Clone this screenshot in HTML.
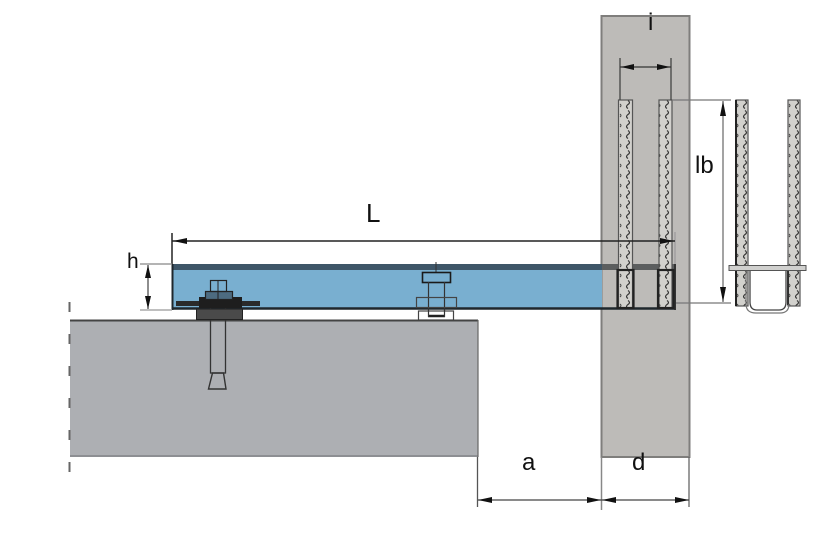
<!DOCTYPE html>
<html><head><meta charset="utf-8"><style>
html,body{margin:0;padding:0;background:#fff;}
svg{display:block;}
text{font-family:"Liberation Sans",sans-serif;fill:#111;}
</style></head><body>
<svg width="835" height="553" viewBox="0 0 835 553" xmlns="http://www.w3.org/2000/svg">
<defs>
<pattern id="rb" x="0" y="100" width="13" height="10" patternUnits="userSpaceOnUse">
<rect width="13" height="10" fill="#d2d1cd"/>
<path d="M4 0.5 q3 2 0 4 q-3 2 0 4" stroke="#333" stroke-width="1.2" fill="none"/>
<path d="M9 4 q2 1.5 0 3" stroke="#444" stroke-width="1" fill="none"/>
</pattern>
</defs>

<!-- slab -->
<rect x="70" y="320" width="408" height="137" fill="#adafb3"/>
<line x1="70" y1="320.5" x2="478" y2="320.5" stroke="#444" stroke-width="2"/>
<line x1="70" y1="456" x2="478" y2="456" stroke="#8d8f93" stroke-width="2"/>
<line x1="478" y1="320" x2="478" y2="457" stroke="#666" stroke-width="1.2"/>
<line x1="69.5" y1="302" x2="69.5" y2="472" stroke="#666" stroke-width="2" stroke-dasharray="10,22"/>

<!-- wall -->
<rect x="601.5" y="16" width="88" height="441" fill="#bdbbb8" stroke="#7f7e7c" stroke-width="2"/>

<!-- beam -->
<rect x="172" y="264" width="430" height="45" fill="#79afd0"/>
<rect x="172" y="264" width="430" height="6" fill="#3e5668"/>
<rect x="602" y="264" width="74" height="6" fill="#5c5e5f"/>
<line x1="172" y1="308.5" x2="676" y2="308.5" stroke="#1f272c" stroke-width="2.5"/>
<line x1="172.5" y1="264" x2="172.5" y2="310" stroke="#1f272c" stroke-width="2"/>
<line x1="675" y1="264" x2="675" y2="310" stroke="#333" stroke-width="2"/>

<!-- rebars in wall -->
<rect x="618.5" y="100" width="14" height="208" fill="url(#rb)" stroke="#555" stroke-width="1.2"/>
<rect x="659" y="100" width="13" height="208" fill="url(#rb)" stroke="#555" stroke-width="1.2"/>
<rect x="617.5" y="270" width="16" height="38" fill="none" stroke="#222" stroke-width="2.2"/>
<rect x="658" y="270" width="15.5" height="38" fill="none" stroke="#222" stroke-width="2.2"/>

<!-- left anchor bolt -->
<rect x="210.5" y="306" width="15" height="67" fill="none" stroke="#333" stroke-width="1.3"/>
<path d="M212.5 373 L223.5 373 L226 389 L208.5 389 Z" fill="none" stroke="#333" stroke-width="1.4"/>
<rect x="196.5" y="309" width="46" height="10.5" fill="#4a4a4a" stroke="#222" stroke-width="1"/>
<rect x="176" y="301" width="84" height="5" fill="#2a2a2a"/>
<rect x="199" y="297" width="43" height="11" fill="#1e1e1e"/>
<rect x="205.5" y="291.5" width="27" height="8" fill="#4d6b80" stroke="#222" stroke-width="1.2"/>
<rect x="210.5" y="280.5" width="16" height="11" fill="none" stroke="#222" stroke-width="1.2"/>
<line x1="218" y1="280" x2="218" y2="300" stroke="#222" stroke-width="1"/>

<!-- right bolt -->
<line x1="436" y1="262" x2="436" y2="272" stroke="#333" stroke-width="1"/>
<rect x="422.5" y="272.5" width="28" height="10" fill="none" stroke="#1a1a1a" stroke-width="1.6"/>
<line x1="428.5" y1="282" x2="428.5" y2="316" stroke="#333" stroke-width="1.2"/>
<line x1="444.5" y1="282" x2="444.5" y2="316" stroke="#333" stroke-width="1.2"/>
<rect x="416.5" y="297.5" width="40" height="10" fill="none" stroke="#444" stroke-width="1.2"/>
<rect x="418.5" y="311" width="35" height="9" fill="#fff" stroke="#444" stroke-width="1.2"/>
<line x1="428" y1="316" x2="445" y2="316" stroke="#222" stroke-width="2.5"/>
<line x1="428.5" y1="310" x2="428.5" y2="317" stroke="#333" stroke-width="1.2"/>
<line x1="444.5" y1="310" x2="444.5" y2="317" stroke="#333" stroke-width="1.2"/>

<!-- right U-bar detail -->
<rect x="736" y="100" width="12" height="206" fill="url(#rb)" stroke="#555" stroke-width="1.2"/>
<line x1="736" y1="100" x2="736" y2="306" stroke="#222" stroke-width="2"/>
<rect x="788" y="100" width="12" height="206" fill="url(#rb)" stroke="#555" stroke-width="1.2"/>
<line x1="788" y1="268" x2="788" y2="305" stroke="#222" stroke-width="1.8"/>
<path d="M750 268 L750 302 Q750 310 757 310 L779 310 Q786 310 786 302 L786 268" fill="none" stroke="#444" stroke-width="1.3"/>
<path d="M746 272 L746 304 Q746 313 756 313 L780 313 Q789 313 789 304" fill="none" stroke="#777" stroke-width="1.2"/>
<rect x="729" y="265.5" width="77" height="5" fill="#d0d0ce" stroke="#555" stroke-width="1"/>

<!-- dimension i -->
<line x1="620" y1="58" x2="620" y2="100" stroke="#444" stroke-width="1.3"/>
<line x1="671" y1="58" x2="671" y2="100" stroke="#444" stroke-width="1.3"/>
<line x1="620" y1="67" x2="671" y2="67" stroke="#333" stroke-width="1.3"/>
<path d="M621 67 L634 64 L634 70 Z" fill="#111"/>
<path d="M670 67 L657 64 L657 70 Z" fill="#111"/>
<text x="648" y="30" font-size="24">i</text>

<!-- dimension lb -->
<line x1="672" y1="100" x2="731" y2="100" stroke="#777" stroke-width="1.2"/>
<line x1="676" y1="303" x2="731" y2="303" stroke="#777" stroke-width="1.2"/>
<line x1="723" y1="101" x2="723" y2="302" stroke="#666" stroke-width="1.2"/>
<path d="M723 101 L720 116 L726 116 Z" fill="#111"/>
<path d="M723 302 L720 287 L726 287 Z" fill="#111"/>
<text x="695" y="173" font-size="24">lb</text>

<!-- dimension L -->
<line x1="172" y1="233" x2="172" y2="264" stroke="#222" stroke-width="1.5"/>
<line x1="675" y1="232" x2="675" y2="264" stroke="#999" stroke-width="1.2"/>
<line x1="172" y1="241" x2="675" y2="241" stroke="#222" stroke-width="1.5"/>
<path d="M173 241 L187 238 L187 244 Z" fill="#111"/>
<path d="M674 241 L660 238 L660 244 Z" fill="#111"/>
<text x="366" y="222" font-size="26">L</text>

<!-- dimension h -->
<line x1="140" y1="264" x2="172" y2="264" stroke="#888" stroke-width="1.3"/>
<line x1="140" y1="310" x2="172" y2="310" stroke="#aaa" stroke-width="1.5"/>
<line x1="148" y1="265" x2="148" y2="309" stroke="#444" stroke-width="1.2"/>
<path d="M148 265 L145 278 L151 278 Z" fill="#111"/>
<path d="M148 309 L145 296 L151 296 Z" fill="#111"/>
<text x="127" y="268" font-size="21">h</text>

<!-- dimension a / d -->
<line x1="477.5" y1="457" x2="477.5" y2="507" stroke="#555" stroke-width="1.3"/>
<line x1="601.5" y1="457" x2="601.5" y2="510" stroke="#888" stroke-width="1.5"/>
<line x1="689" y1="457" x2="689" y2="507" stroke="#666" stroke-width="1.3"/>
<line x1="478" y1="500" x2="689" y2="500" stroke="#444" stroke-width="1.3"/>
<path d="M478 500 L492 497 L492 503 Z" fill="#111"/>
<path d="M601 500 L587 497 L587 503 Z" fill="#111"/>
<path d="M602 500 L616 497 L616 503 Z" fill="#111"/>
<path d="M689 500 L675 497 L675 503 Z" fill="#111"/>
<text x="522" y="470" font-size="24">a</text>
<text x="632" y="470" font-size="24">d</text>
</svg>
</body></html>
